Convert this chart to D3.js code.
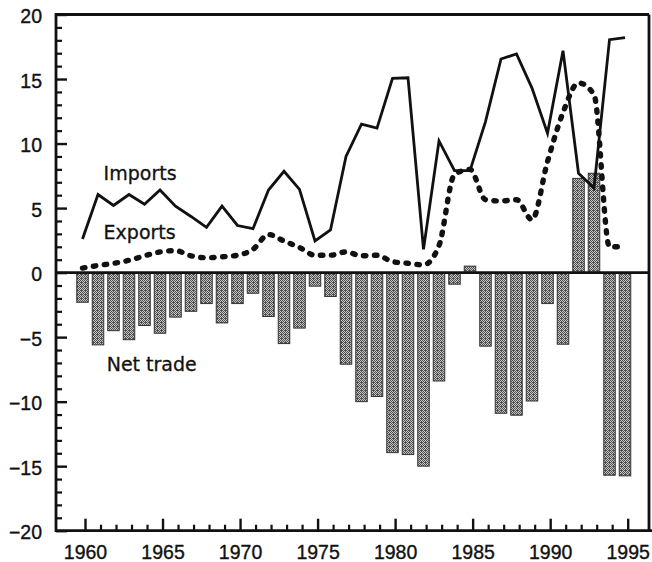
<!DOCTYPE html>
<html>
<head>
<meta charset="utf-8">
<script src="https://cdn.jsdelivr.net/npm/d3@7"></script>
<style>
  html, body { margin: 0; padding: 0; background: #fff; }
  svg { display: block; }
  .tick-label { font-family: "Liberation Sans", Arial, Helvetica, sans-serif; font-size: 19.5px; fill: #111; stroke: #111; stroke-width: 0.35px; }
  .series-label { font-family: "DejaVu Sans", sans-serif; font-size: 19px; fill: #111; stroke: #111; stroke-width: 0.3px; }
</style>
</head>
<body>
<svg id="chart" width="652" height="562"></svg>
<script>
// Trade flows, 1960-1995
const years = d3.range(1960, 1996);

const imports = [2.6, 6.05, 5.2, 6.05, 5.3, 6.4, 5.15, 4.35, 3.5, 5.15,
                 3.65, 3.4, 6.4, 7.85, 6.45, 2.45, 3.3, 9.0, 11.5, 11.2,
                 15.05, 15.1, 1.8, 10.2, 7.9, 7.9, 11.7, 16.55, 16.95, 14.3,
                 10.8, 17.2, 7.7, 6.55, 18.05, 18.2];

const exports = [0.35, 0.55, 0.72, 0.95, 1.3, 1.6, 1.7, 1.3, 1.15, 1.22,
                 1.35, 1.8, 2.95, 2.45, 1.95, 1.35, 1.35, 1.6, 1.3, 1.35,
                 0.85, 0.72, 0.6, 2.1, 7.6, 8.0, 5.65, 5.55, 5.65, 4.1,
                 8.6, 12.4, 14.7, 13.8, 2.0, 2.0];

const netTrade = [-2.3, -5.6, -4.5, -5.2, -4.1, -4.7, -3.45, -3.0, -2.4, -3.9,
                  -2.4, -1.6, -3.4, -5.5, -4.3, -1.05, -1.85, -7.1, -10.0, -9.6,
                  -13.95, -14.1, -15.0, -8.4, -0.9, 0.5, -5.7, -10.9, -11.05, -9.95,
                  -2.4, -5.55, 7.3, 7.7, -15.7, -15.75];

const yearTicks = [1960, 1965, 1970, 1975, 1980, 1985, 1990, 1995];
const valueTicks = [-20, -15, -10, -5, 0, 5, 10, 15, 20];

const seriesLabels = [
  { text: "Imports", year: 1961.2, value: 7.2 },
  { text: "Exports", year: 1961.2, value: 2.6 },
  { text: "Net trade", year: 1961.4, value: -7.6 }
];

const svg = d3.select("#chart");

const frame = { left: 56, right: 649, top: 14.5, bottom: 530.7 };

const x = d3.scaleLinear().domain([1960, 1995]).range([85, 627.7]);
// plotted marks sit a touch left of the year ticks
const xMark = d3.scaleLinear().domain([1960, 1995]).range([82.5, 625]);
const y = d3.scaleLinear().domain([-20, 20]).range([frame.bottom, frame.top]);

// halftone stipple fill for the bars
const defs = svg.append("defs");
const pat = defs.append("pattern")
  .attr("id", "halftone")
  .attr("patternUnits", "userSpaceOnUse")
  .attr("width", 4).attr("height", 4);
pat.append("rect").attr("width", 4).attr("height", 4).attr("fill", "#c4c4c4").attr("shape-rendering", "crispEdges");
[[0, 0], [2, 0], [1, 1], [3, 1], [0, 2], [2, 2], [3, 3], [1, 3], [1, 2]].forEach(([px, py]) => {
  pat.append("rect")
    .attr("x", px).attr("y", py).attr("width", 1).attr("height", 1)
    .attr("fill", "#505050").attr("shape-rendering", "crispEdges");
});

// net trade bars
const barW = 11.5;
svg.append("g")
  .selectAll("rect")
  .data(years.map((yr, i) => ({ yr, v: netTrade[i] })))
  .join("rect")
  .attr("x", d => xMark(d.yr) - barW / 2)
  .attr("width", barW)
  .attr("y", d => y(Math.max(0, d.v)))
  .attr("height", d => Math.abs(y(d.v) - y(0)))
  .attr("fill", "url(#halftone)")
  .attr("stroke", "#333")
  .attr("stroke-width", 1);

// frame
const frameG = svg.append("g").attr("stroke", "#111").attr("stroke-width", 2.8).attr("fill", "none");
frameG.append("line").attr("x1", frame.left).attr("x2", frame.left).attr("y1", frame.top - 1.4).attr("y2", frame.bottom + 1.4);
frameG.append("line").attr("x1", frame.left).attr("x2", frame.right).attr("y1", frame.top).attr("y2", frame.top);
frameG.append("line").attr("x1", frame.right).attr("x2", frame.right).attr("y1", frame.top).attr("y2", frame.bottom);
frameG.append("line").attr("x1", frame.left).attr("x2", 652).attr("y1", frame.bottom).attr("y2", frame.bottom);
// zero line
frameG.append("line").attr("x1", frame.left).attr("x2", frame.right).attr("y1", y(0)).attr("y2", y(0));

// y axis: major ticks with labels, minor ticks every unit
const yMajor = d3.axisLeft(y).tickValues(valueTicks).tickSizeInner(-11).tickSizeOuter(0).tickPadding(14).tickFormat(d3.format("d"));
const yMinor = d3.axisLeft(y).tickValues(d3.range(-19, 20).filter(v => v % 5 !== 0)).tickSizeInner(-6).tickSizeOuter(0).tickFormat("");

const yG = svg.append("g").attr("transform", `translate(${frame.left},0)`).call(yMajor);
svg.append("g").attr("transform", `translate(${frame.left},0)`).call(yMinor)
  .call(g => g.select(".domain").remove())
  .call(g => g.selectAll("line").attr("stroke", "#111").attr("stroke-width", 2.2));
yG.select(".domain").remove();
yG.selectAll("line").attr("stroke", "#111").attr("stroke-width", 2.4);
yG.selectAll("text").attr("class", "tick-label").attr("dy", "0.42em");

// x axis
const xMajor = d3.axisBottom(x).tickValues(yearTicks).tickSizeInner(-12).tickSizeOuter(0).tickPadding(14).tickFormat(d3.format("d"));
const xMinor = d3.axisBottom(x).tickValues(years.filter(v => v % 5 !== 0)).tickSizeInner(-6).tickSizeOuter(0).tickFormat("");

const xG = svg.append("g").attr("transform", `translate(0,${frame.bottom})`).call(xMajor);
svg.append("g").attr("transform", `translate(0,${frame.bottom})`).call(xMinor)
  .call(g => g.select(".domain").remove())
  .call(g => g.selectAll("line").attr("stroke", "#111").attr("stroke-width", 2.2));
xG.select(".domain").remove();
xG.selectAll("line").attr("stroke", "#111").attr("stroke-width", 2.4);
xG.selectAll("text").attr("class", "tick-label");

// exports: heavy dotted curve
const exportsLine = d3.line()
  .x((d, i) => xMark(years[i]))
  .y(d => y(d))
  .curve(d3.curveMonotoneX);
svg.append("path")
  .datum(exports)
  .attr("d", exportsLine)
  .attr("fill", "none")
  .attr("stroke", "#111")
  .attr("stroke-width", 5.4)
  .attr("stroke-linecap", "round")
  .attr("stroke-dasharray", "2.5,8.5");

// imports: solid line
const importsLine = d3.line()
  .x((d, i) => xMark(years[i]))
  .y(d => y(d));
svg.append("path")
  .datum(imports)
  .attr("d", importsLine)
  .attr("fill", "none")
  .attr("stroke", "#111")
  .attr("stroke-width", 2.8)
  .attr("stroke-linejoin", "miter");

// series labels
svg.append("g")
  .selectAll("text")
  .data(seriesLabels)
  .join("text")
  .attr("class", "series-label")
  .attr("x", d => x(d.year))
  .attr("y", d => y(d.value))
  .text(d => d.text);
</script>
</body>
</html>
